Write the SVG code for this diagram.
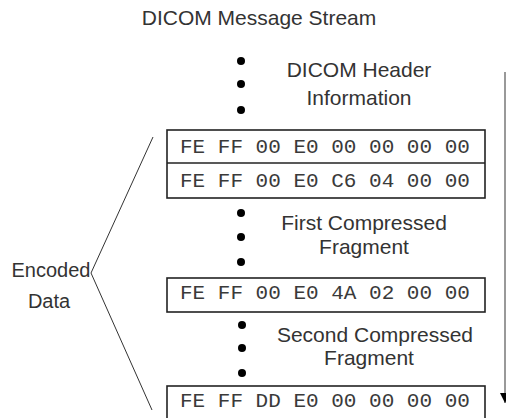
<svg xmlns="http://www.w3.org/2000/svg" width="506" height="418" viewBox="0 0 506 418">
<defs>
<style>
.lbl{font-family:"Liberation Sans",Arial,sans-serif;font-size:21px;fill:#333;text-anchor:middle}
.hex{font-family:"Liberation Mono","Courier New",monospace;font-size:21px;fill:#3a3a3a}
.box{fill:#fff;stroke:#222;stroke-width:1.6}
.dot{fill:#000}
.conn{fill:none;stroke:#333;stroke-width:1}
</style>
<marker id="ah" viewBox="0 0 10 10" refX="10" refY="5" markerWidth="10" markerHeight="10" markerUnits="userSpaceOnUse" orient="auto">
<path d="M0,0 L10,5 L0,10 Z" fill="#000"/>
</marker>
</defs>
<rect width="506" height="418" fill="#fff"/>
<g id="title"><text class="lbl" x="259" y="25">DICOM Message Stream</text></g>
<g id="header">
<circle class="dot" cx="241" cy="61" r="4"/>
<circle class="dot" cx="241" cy="84" r="4"/>
<circle class="dot" cx="241" cy="110" r="4"/>
<text class="lbl" x="359" y="77">DICOM Header</text>
<text class="lbl" x="359" y="105">Information</text>
</g>
<g id="box1">
<rect class="box" x="167" y="130" width="318" height="68"/>
<line x1="167" y1="163" x2="485" y2="163" stroke="#222" stroke-width="1.6"/>
<text class="hex" x="180" y="152.5">FE FF 00 E0 00 00 00 00</text>
<text class="hex" x="180" y="186.5">FE FF 00 E0 C6 04 00 00</text>
</g>
<g id="frag1">
<circle class="dot" cx="241" cy="213" r="4"/>
<circle class="dot" cx="241" cy="237" r="4"/>
<circle class="dot" cx="241" cy="262" r="4"/>
<text class="lbl" x="364" y="230">First Compressed</text>
<text class="lbl" x="364" y="254">Fragment</text>
</g>
<g id="box3">
<rect class="box" x="167" y="278" width="318" height="34"/>
<text class="hex" x="180" y="299">FE FF 00 E0 4A 02 00 00</text>
</g>
<g id="frag2">
<circle class="dot" cx="242" cy="325" r="4"/>
<circle class="dot" cx="242" cy="348" r="4"/>
<circle class="dot" cx="242" cy="373" r="4"/>
<text class="lbl" x="375" y="342">Second Compressed</text>
<text class="lbl" x="369" y="365">Fragment</text>
</g>
<g id="box4">
<rect class="box" x="167" y="386" width="318" height="40"/>
<text class="hex" x="180" y="407">FE FF DD E0 00 00 00 00</text>
</g>
<g id="encoded">
<text class="lbl" x="51" y="277" style="font-size:20px">Encoded</text>
<text class="lbl" x="49" y="308" style="font-size:20px">Data</text>
</g>
<g id="connectors">
<path class="conn" d="M153,137 L91,273 L152,410"/>
<line x1="505" y1="72" x2="505" y2="403" stroke="#777" stroke-width="1.5" marker-end="url(#ah)"/>
</g>
</svg>
